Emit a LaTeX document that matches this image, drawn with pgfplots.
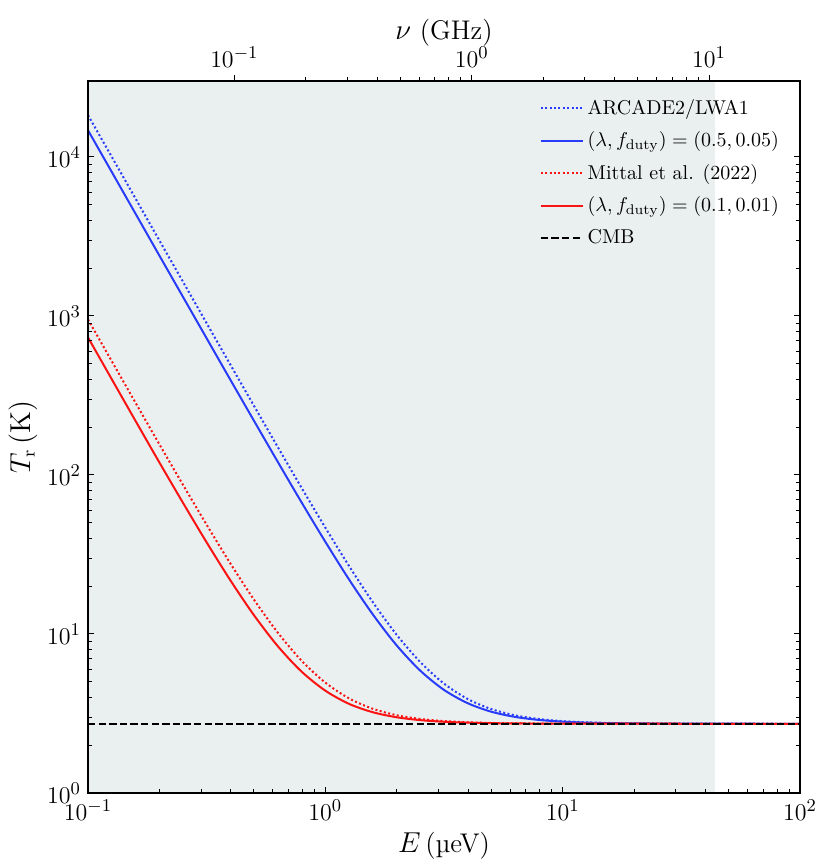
\documentclass[border=0pt]{standalone}
\usepackage{pgfplots}
\pgfplotsset{compat=1.18}
\definecolor{shadecol}{RGB}{234,240,240}
\definecolor{myblue}{RGB}{40,60,250}
\definecolor{myred}{RGB}{250,20,20}
\pgfplotstableread{
x y
0.1 14702.7
0.1259 8043.6
0.1585 4400.9
0.1995 2409.1
0.2512 1318.9
0.3162 722.7
0.3981 396.5
0.5012 218.2
0.6310 120.6
0.7943 67.2
1 38.0
1.259 22.0
1.585 13.28
1.995 8.50
2.512 5.88
3.162 4.45
3.981 3.67
5.012 3.242
6.310 3.008
7.943 2.880
10 2.810
12.59 2.771
15.85 2.750
25.12 2.733
39.81 2.727
100 2.725
}\bluesolid
\pgfplotstableread{
x y
0.1 18302.7
0.1259 10012.7
0.1585 5478.1
0.1995 2998.4
0.2512 1641.3
0.3162 899.0
0.3981 493.0
0.5012 271.0
0.6310 149.4
0.7943 82.97
1 46.63
1.259 26.74
1.585 15.86
1.995 9.91
2.512 6.656
3.162 4.875
3.981 3.901
5.012 3.368
6.310 3.077
7.943 2.918
10 2.830
12.59 2.783
15.85 2.757
25.12 2.734
39.81 2.728
100 2.725
}\bluedot
\pgfplotstableread{
x y
0.1 732.7
0.1259 400.2
0.1585 219.1
0.1995 120.5
0.2512 66.89
0.3162 37.66
0.3981 21.75
0.5012 13.08
0.6310 8.37
0.7943 5.80
1 4.40
1.259 3.635
1.585 3.221
1.995 2.995
2.512 2.872
3.162 2.805
3.981 2.769
5.012 2.749
6.310 2.738
10 2.729
25.12 2.726
100 2.725
}\redsolid
\pgfplotstableread{
x y
0.1 949.7
0.1259 519.6
0.1585 284.8
0.1995 156.7
0.2512 86.74
0.3162 48.58
0.3981 27.74
0.5012 16.38
0.6310 10.18
0.7943 6.79
1 4.945
1.259 3.936
1.585 3.386
1.995 3.086
2.512 2.922
3.162 2.833
3.981 2.784
5.012 2.757
6.310 2.743
10 2.730
25.12 2.726
100 2.725
}\reddot
\begin{document}
\begin{tikzpicture}
\path[use as bounding box] (-44pt,-36.5pt) rectangle (371.5pt,396.5pt);
\begin{axis}[
  at={(0pt,0pt)}, anchor=south west,
  scale only axis, width=356pt, height=356pt,
  xmode=log, ymode=log,
  xmin=0.1, xmax=100, ymin=1, ymax=30000,
  xtick pos=bottom,
  ytick pos=both,
  tick align=inside,
  major tick length=3.2pt, minor tick length=1.8pt,
  tick style={black, line width=0.5pt},
  axis line style={line width=0.6pt},
  axis on top,
  tick label style={font=\fontsize{12.5}{14}\selectfont},
  label style={font=\fontsize{13.5}{16}\selectfont},
  xlabel={$E\,$(µeV)},
  ylabel={$T_{\mathrm{r}}\,(\mathrm{K})$},
  xlabel style={yshift=1pt},
  ylabel style={yshift=-2pt},
  legend cell align=left,
  legend style={draw=none, fill=none, at={(0.985,0.986)}, anchor=north east,
    font=\fontsize{10}{12}\selectfont, row sep=3.2pt,
    /tikz/every even column/.append style={column sep=6pt}},
  legend image code/.code={\draw[#1] (0pt,0pt) -- (21pt,0pt);},
]
\addplot[fill=shadecol, draw=none, forget plot] coordinates {(0.1,1) (43.7,1) (43.7,30000) (0.1,30000)} -- cycle;
\addplot[myblue, line width=1pt, smooth, tension=0.5, dash pattern=on 1pt off 1.2pt] table {\bluedot};
\addlegendentry{ARCADE2/LWA1}
\addplot[myblue, line width=1pt, smooth, tension=0.5] table {\bluesolid};
\addlegendentry{$(\lambda, f_{\mathrm{duty}}) = (0.5, 0.05)$}
\addplot[myred, line width=1pt, smooth, tension=0.5, dash pattern=on 1pt off 1.2pt] table {\reddot};
\addlegendentry{Mittal et al. (2022)}
\addplot[myred, line width=1pt, smooth, tension=0.5] table {\redsolid};
\addlegendentry{$(\lambda, f_{\mathrm{duty}}) = (0.1, 0.01)$}
\addplot[black, line width=1pt, dash pattern=on 3.7pt off 1.6pt] coordinates {(0.1,2.725) (100,2.725)};
\addlegendentry{CMB}
\end{axis}
\begin{axis}[
  at={(0pt,0pt)}, anchor=south west,
  scale only axis, width=356pt, height=356pt,
  xmode=log, ymode=log,
  xmin=0.024180, xmax=24.180, ymin=1, ymax=30000,
  axis x line*=top,
  axis y line=none,
  xtick align=outside,
  major tick length=3.2pt, minor tick length=1.8pt,
  tick style={black, line width=0.5pt},
  xtick={0.1,1,10},
  tick label style={font=\fontsize{12.5}{14}\selectfont},
  label style={font=\fontsize{13.5}{16}\selectfont},
  xlabel={$\nu$ (GHz)},
  xlabel style={yshift=-6.5pt},
]
\end{axis}
\end{tikzpicture}
\end{document}
